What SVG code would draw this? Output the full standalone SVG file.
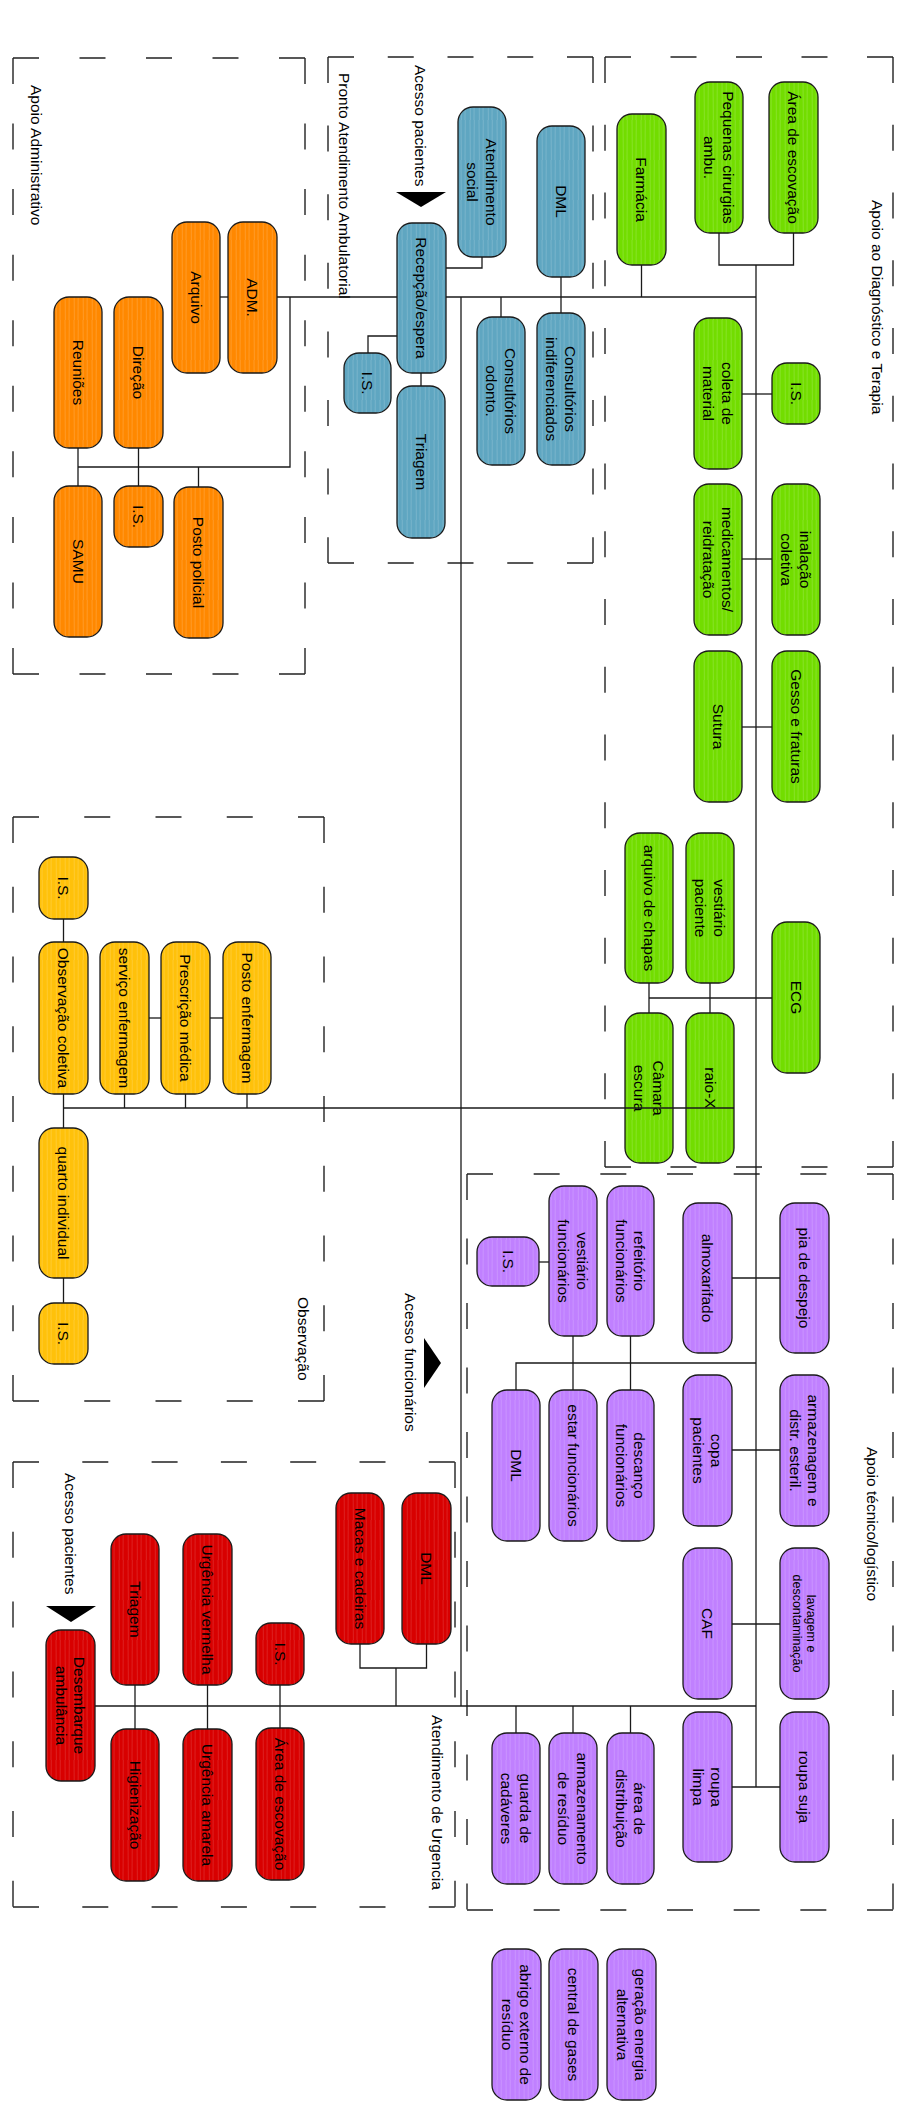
<svg xmlns="http://www.w3.org/2000/svg" width="921" height="2124" viewBox="0 0 921 2124">
<defs>
<pattern id="hO" width="9" height="40" patternUnits="userSpaceOnUse"><rect width="9" height="40" fill="#FF8800"/><path d="M2 0L2.4 40M6.3 0L6 40" stroke="#fff" stroke-opacity=".22" stroke-width=".7"/></pattern>
<pattern id="hB" width="9" height="40" patternUnits="userSpaceOnUse"><rect width="9" height="40" fill="#5FA6C1"/><path d="M2 0L2.4 40M6.3 0L6 40" stroke="#fff" stroke-opacity=".22" stroke-width=".7"/></pattern>
<pattern id="hG" width="9" height="40" patternUnits="userSpaceOnUse"><rect width="9" height="40" fill="#72DD00"/><path d="M2 0L2.4 40M6.3 0L6 40" stroke="#fff" stroke-opacity=".22" stroke-width=".7"/></pattern>
<pattern id="hY" width="9" height="40" patternUnits="userSpaceOnUse"><rect width="9" height="40" fill="#FFC10A"/><path d="M2 0L2.4 40M6.3 0L6 40" stroke="#fff" stroke-opacity=".22" stroke-width=".7"/></pattern>
<pattern id="hP" width="9" height="40" patternUnits="userSpaceOnUse"><rect width="9" height="40" fill="#C080FF"/><path d="M2 0L2.4 40M6.3 0L6 40" stroke="#fff" stroke-opacity=".22" stroke-width=".7"/></pattern>
<pattern id="hR" width="9" height="40" patternUnits="userSpaceOnUse"><rect width="9" height="40" fill="#D80000"/><path d="M2 0L2.4 40M6.3 0L6 40" stroke="#fff" stroke-opacity=".18" stroke-width=".7"/></pattern>
</defs>
<style>
.zone line{stroke:#222;stroke-width:1.4;fill:none}
.nd rect{stroke:#1a1a1a;stroke-width:1.3}
.o rect{fill:url(#hO)}
.b rect{fill:url(#hB)}
.g rect{fill:url(#hG)}
.y rect{fill:url(#hY)}
.p rect{fill:url(#hP)}
.r rect{fill:url(#hR)}
text{font-family:"Liberation Sans",Arial,Helvetica,sans-serif;font-size:15.5px;fill:#000}
.nd text{text-anchor:middle}
.sm{font-size:12.5px}
.lbl{text-anchor:start}
#connectors path{stroke:#1a1a1a;stroke-width:1.3;fill:none}
.arrow{fill:#000}
</style>
<rect width="921" height="2124" fill="#fff"/>

<!-- zones -->
<g id="zone-admin" class="zone">
<line x1="13" y1="58" x2="305" y2="58" stroke-dasharray="26 40.5"/>
<line x1="13" y1="674" x2="305" y2="674" stroke-dasharray="26 40.5"/>
<line x1="13" y1="58" x2="13" y2="674" stroke-dasharray="26 39.56"/>
<line x1="305" y1="58" x2="305" y2="674" stroke-dasharray="26 39.56"/>
<text class="lbl" transform="translate(36 85) rotate(90)" y="5.4">Apoio Administrativo</text>
</g>
<g id="zone-pronto" class="zone">
<line x1="328" y1="57" x2="593" y2="57" stroke-dasharray="26 33.75"/>
<line x1="328" y1="563" x2="593" y2="563" stroke-dasharray="26 33.75"/>
<line x1="328" y1="57" x2="328" y2="563" stroke-dasharray="26 42.6"/>
<line x1="593" y1="57" x2="593" y2="563" stroke-dasharray="26 42.6"/>
<text class="lbl" transform="translate(344 73) rotate(90)" y="5.4">Pronto Atendimento Ambulatorial</text>
</g>
<g id="zone-diag" class="zone">
<line x1="605" y1="57" x2="893" y2="57" stroke-dasharray="26 39.5"/>
<line x1="605" y1="1167" x2="893" y2="1167" stroke-dasharray="26 39.5"/>
<line x1="605" y1="57" x2="605" y2="1167" stroke-dasharray="26 41.75"/>
<line x1="893" y1="57" x2="893" y2="1167" stroke-dasharray="26 41.75"/>
<text class="lbl" transform="translate(877 200) rotate(90)" y="5.4">Apoio ao Diagnóstico e Terapia</text>
</g>
<g id="zone-obs" class="zone">
<line x1="13" y1="817" x2="324" y2="817" stroke-dasharray="26 45.25"/>
<line x1="13" y1="1401" x2="324" y2="1401" stroke-dasharray="26 45.25"/>
<line x1="13" y1="817" x2="13" y2="1401" stroke-dasharray="26 43.75"/>
<line x1="324" y1="817" x2="324" y2="1401" stroke-dasharray="26 43.75"/>
<text class="lbl" transform="translate(303 1297) rotate(90)" y="5.4">Observação</text>
</g>
<g id="zone-tecnico" class="zone">
<line x1="467" y1="1174" x2="893" y2="1174" stroke-dasharray="26 40.67"/>
<line x1="467" y1="1910" x2="893" y2="1910" stroke-dasharray="26 40.67"/>
<line x1="467" y1="1174" x2="467" y2="1910" stroke-dasharray="26 38.5"/>
<line x1="893" y1="1174" x2="893" y2="1910" stroke-dasharray="26 38.5"/>
<text class="lbl" transform="translate(872 1447) rotate(90)" y="5.4">Apoio técnico/logístico</text>
</g>
<g id="zone-urgencia" class="zone">
<line x1="13" y1="1462" x2="455" y2="1462" stroke-dasharray="26 43.3"/>
<line x1="13" y1="1907" x2="455" y2="1907" stroke-dasharray="26 43.3"/>
<line x1="13" y1="1462" x2="13" y2="1907" stroke-dasharray="26 43.8"/>
<line x1="455" y1="1462" x2="455" y2="1907" stroke-dasharray="26 43.8"/>
<text class="lbl" transform="translate(437 1715) rotate(90)" y="5.4">Atendimento de Urgencia</text>
</g>

<!-- access labels and arrows -->
<g id="acesso-pacientes-pa">
<text class="lbl" transform="translate(420 65) rotate(90)" y="5.4">Acesso pacientes</text>
<polygon class="arrow" points="396,192 446,192 421,207"/>
</g>
<g id="acesso-funcionarios">
<text class="lbl" transform="translate(410 1293) rotate(90)" y="5.4">Acesso funcionários</text>
<polygon class="arrow" points="424,1338 441,1363 424,1388"/>
</g>
<g id="acesso-pacientes-urg">
<text class="lbl" transform="translate(70 1473) rotate(90)" y="5.4">Acesso pacientes</text>
<polygon class="arrow" points="46,1606 96,1606 71,1622"/>
</g>

<!-- nodes: orange -->
<g id="n-arquivo" class="nd o"><rect x="172" y="222" width="48" height="151" rx="15"/><text transform="translate(196 297.5) rotate(90)" y="5.4">Arquivo</text></g>
<g id="n-adm" class="nd o"><rect x="228" y="222" width="49" height="151" rx="15"/><text transform="translate(252.5 297.5) rotate(90)" y="5.4">ADM.</text></g>
<g id="n-reunioes" class="nd o"><rect x="54" y="297" width="48" height="151" rx="15"/><text transform="translate(78 372.5) rotate(90)" y="5.4">Reuniões</text></g>
<g id="n-direcao" class="nd o"><rect x="114" y="297" width="49" height="151" rx="15"/><text transform="translate(138.5 372.5) rotate(90)" y="5.4">Direção</text></g>
<g id="n-samu" class="nd o"><rect x="54" y="486" width="48" height="151" rx="15"/><text transform="translate(78 561.5) rotate(90)" y="5.4">SAMU</text></g>
<g id="n-is-adm" class="nd o"><rect x="114" y="486" width="49" height="61" rx="15"/><text transform="translate(138.5 516.5) rotate(90)" y="5.4">I.S.</text></g>
<g id="n-posto-policial" class="nd o"><rect x="174" y="487" width="49" height="151" rx="15"/><text transform="translate(198.5 562.5) rotate(90)" y="5.4">Posto policial</text></g>

<!-- nodes: blue -->
<g id="n-atend-social" class="nd b"><rect x="458" y="107" width="48" height="150" rx="15"/><text transform="translate(482 182) rotate(90)"><tspan x="0" y="-3.9">Atendimento</tspan><tspan x="0" y="14.7">social</tspan></text></g>
<g id="n-dml-pa" class="nd b"><rect x="537" y="126" width="48" height="151" rx="15"/><text transform="translate(561 201.5) rotate(90)" y="5.4">DML</text></g>
<g id="n-recepcao" class="nd b"><rect x="397" y="223" width="49" height="150" rx="15"/><text transform="translate(421.5 298) rotate(90)" y="5.4">Recepção/espera</text></g>
<g id="n-is-pa" class="nd b"><rect x="344" y="353" width="47" height="60" rx="15"/><text transform="translate(367.5 383) rotate(90)" y="5.4">I.S.</text></g>
<g id="n-triagem-pa" class="nd b"><rect x="397" y="386" width="48" height="152" rx="15"/><text transform="translate(421 462) rotate(90)" y="5.4">Triagem</text></g>
<g id="n-cons-odonto" class="nd b"><rect x="477" y="317" width="48" height="148" rx="15"/><text transform="translate(501 391) rotate(90)"><tspan x="0" y="-3.9">Consultórios</tspan><tspan x="0" y="14.7">odonto.</tspan></text></g>
<g id="n-cons-indif" class="nd b"><rect x="537" y="313" width="48" height="152" rx="15"/><text transform="translate(561 389) rotate(90)"><tspan x="0" y="-3.9">Consultórios</tspan><tspan x="0" y="14.7">indiferenciados</tspan></text></g>

<!-- nodes: green -->
<g id="n-farmacia" class="nd g"><rect x="617" y="114" width="49" height="151" rx="15"/><text transform="translate(641.5 189.5) rotate(90)" y="5.4">Farmácia</text></g>
<g id="n-peq-cir" class="nd g"><rect x="695" y="82" width="48" height="151" rx="15"/><text transform="translate(719 157.5) rotate(90)"><tspan x="0" y="-3.9">Pequenas cirurgias</tspan><tspan x="0" y="14.7">ambu.</tspan></text></g>
<g id="n-escov-diag" class="nd g"><rect x="769" y="82" width="49" height="151" rx="15"/><text transform="translate(793.5 157.5) rotate(90)" y="5.4">Área de escovação</text></g>
<g id="n-coleta" class="nd g"><rect x="694" y="318" width="48" height="151" rx="15"/><text transform="translate(718 393.5) rotate(90)"><tspan x="0" y="-3.9">coleta de</tspan><tspan x="0" y="14.7">material</tspan></text></g>
<g id="n-is-diag" class="nd g"><rect x="772" y="363" width="48" height="61" rx="15"/><text transform="translate(796 393.5) rotate(90)" y="5.4">I.S.</text></g>
<g id="n-medic" class="nd g"><rect x="694" y="484" width="48" height="151" rx="15"/><text transform="translate(718 559.5) rotate(90)"><tspan x="0" y="-3.9">medicamentos/</tspan><tspan x="0" y="14.7">reidratação</tspan></text></g>
<g id="n-inalacao" class="nd g"><rect x="772" y="484" width="48" height="151" rx="15"/><text transform="translate(796 559.5) rotate(90)"><tspan x="0" y="-3.9">inalação</tspan><tspan x="0" y="14.7">coletiva</tspan></text></g>
<g id="n-sutura" class="nd g"><rect x="694" y="651" width="48" height="151" rx="15"/><text transform="translate(718 726.5) rotate(90)" y="5.4">Sutura</text></g>
<g id="n-gesso" class="nd g"><rect x="772" y="651" width="48" height="151" rx="15"/><text transform="translate(796 726.5) rotate(90)" y="5.4">Gesso e fraturas</text></g>
<g id="n-arq-chapas" class="nd g"><rect x="625" y="833" width="48" height="150" rx="15"/><text transform="translate(649 908) rotate(90)" y="5.4">arquivo de chapas</text></g>
<g id="n-vest-pac" class="nd g"><rect x="686" y="833" width="48" height="150" rx="15"/><text transform="translate(710 908) rotate(90)"><tspan x="0" y="-3.9">vestiário</tspan><tspan x="0" y="14.7">paciente</tspan></text></g>
<g id="n-ecg" class="nd g"><rect x="772" y="922" width="48" height="151" rx="15"/><text transform="translate(796 997.5) rotate(90)" y="5.4">ECG</text></g>
<g id="n-camara" class="nd g"><rect x="625" y="1013" width="48" height="150" rx="15"/><text transform="translate(649 1088) rotate(90)"><tspan x="0" y="-3.9">Câmara</tspan><tspan x="0" y="14.7">escura</tspan></text></g>
<g id="n-raiox" class="nd g"><rect x="686" y="1013" width="48" height="150" rx="15"/><text transform="translate(710 1088) rotate(90)" y="5.4">raio-X</text></g>

<!-- nodes: yellow -->
<g id="n-is-obs1" class="nd y"><rect x="39" y="857" width="49" height="62" rx="15"/><text transform="translate(63.5 888) rotate(90)" y="5.4">I.S.</text></g>
<g id="n-obs-col" class="nd y"><rect x="39" y="942" width="49" height="152" rx="15"/><text transform="translate(63.5 1018) rotate(90)" y="5.4">Observação coletiva</text></g>
<g id="n-serv-enf" class="nd y"><rect x="100" y="942" width="49" height="152" rx="15"/><text transform="translate(124.5 1018) rotate(90)" y="5.4">serviço enfermagem</text></g>
<g id="n-prescricao" class="nd y"><rect x="161" y="942" width="49" height="152" rx="15"/><text transform="translate(185.5 1018) rotate(90)" y="5.4">Prescrição médica</text></g>
<g id="n-posto-enf" class="nd y"><rect x="223" y="942" width="48" height="152" rx="15"/><text transform="translate(247 1018) rotate(90)" y="5.4">Posto enfermagem</text></g>
<g id="n-quarto" class="nd y"><rect x="39" y="1128" width="49" height="150" rx="15"/><text transform="translate(63.5 1203) rotate(90)" y="5.4">quarto individual</text></g>
<g id="n-is-obs2" class="nd y"><rect x="39" y="1303" width="49" height="61" rx="15"/><text transform="translate(63.5 1333.5) rotate(90)" y="5.4">I.S.</text></g>

<!-- nodes: purple -->
<g id="n-is-tec" class="nd p"><rect x="477" y="1237" width="62" height="49" rx="15"/><text transform="translate(508 1261.5) rotate(90)" y="5.4">I.S.</text></g>
<g id="n-vest-func" class="nd p"><rect x="549" y="1186" width="48" height="150" rx="15"/><text transform="translate(573 1261) rotate(90)"><tspan x="0" y="-3.9">vestiário</tspan><tspan x="0" y="14.7">funcionários</tspan></text></g>
<g id="n-refeitorio" class="nd p"><rect x="607" y="1186" width="47" height="150" rx="15"/><text transform="translate(630.5 1261) rotate(90)"><tspan x="0" y="-3.9">refeitório</tspan><tspan x="0" y="14.7">funcionários</tspan></text></g>
<g id="n-almox" class="nd p"><rect x="683" y="1203" width="49" height="150" rx="15"/><text transform="translate(707.5 1278) rotate(90)" y="5.4">almoxarifado</text></g>
<g id="n-pia" class="nd p"><rect x="780" y="1203" width="49" height="150" rx="15"/><text transform="translate(804.5 1278) rotate(90)" y="5.4">pia de despejo</text></g>
<g id="n-dml-tec" class="nd p"><rect x="492" y="1390" width="48" height="151" rx="15"/><text transform="translate(516 1465.5) rotate(90)" y="5.4">DML</text></g>
<g id="n-estar" class="nd p"><rect x="549" y="1390" width="48" height="151" rx="15"/><text transform="translate(573 1465.5) rotate(90)" y="5.4">estar funcionários</text></g>
<g id="n-descanco" class="nd p"><rect x="607" y="1390" width="47" height="151" rx="15"/><text transform="translate(630.5 1465.5) rotate(90)"><tspan x="0" y="-3.9">descanço</tspan><tspan x="0" y="14.7">funcionários</tspan></text></g>
<g id="n-copa" class="nd p"><rect x="683" y="1375" width="49" height="151" rx="15"/><text transform="translate(707.5 1450.5) rotate(90)"><tspan x="0" y="-3.9">copa</tspan><tspan x="0" y="14.7">pacientes</tspan></text></g>
<g id="n-armazenagem" class="nd p"><rect x="780" y="1375" width="49" height="151" rx="15"/><text transform="translate(804.5 1450.5) rotate(90)"><tspan x="0" y="-3.9">armazenagem e</tspan><tspan x="0" y="14.7">distr. esteril.</tspan></text></g>
<g id="n-caf" class="nd p"><rect x="683" y="1548" width="49" height="151" rx="15"/><text transform="translate(707.5 1623.5) rotate(90)" y="5.4">CAF</text></g>
<g id="n-lavagem" class="nd p"><rect x="780" y="1548" width="49" height="151" rx="15"/><text class="sm" transform="translate(804.5 1623.5) rotate(90)"><tspan x="0" y="-2.75">lavagem e</tspan><tspan x="0" y="11.55">descontaminação</tspan></text></g>
<g id="n-roupa-limpa" class="nd p"><rect x="683" y="1712" width="49" height="150" rx="15"/><text transform="translate(707.5 1787) rotate(90)"><tspan x="0" y="-3.9">roupa</tspan><tspan x="0" y="14.7">limpa</tspan></text></g>
<g id="n-roupa-suja" class="nd p"><rect x="780" y="1712" width="49" height="150" rx="15"/><text transform="translate(804.5 1787) rotate(90)" y="5.4">roupa suja</text></g>
<g id="n-guarda" class="nd p"><rect x="492" y="1733" width="48" height="151" rx="15"/><text transform="translate(516 1808.5) rotate(90)"><tspan x="0" y="-3.9">guarda de</tspan><tspan x="0" y="14.7">cadáveres</tspan></text></g>
<g id="n-armazenamento" class="nd p"><rect x="549" y="1733" width="48" height="151" rx="15"/><text transform="translate(573 1808.5) rotate(90)"><tspan x="0" y="-3.9">armazenamento</tspan><tspan x="0" y="14.7">de resíduo</tspan></text></g>
<g id="n-distribuicao" class="nd p"><rect x="607" y="1733" width="47" height="151" rx="15"/><text transform="translate(630.5 1808.5) rotate(90)"><tspan x="0" y="-3.9">área de</tspan><tspan x="0" y="14.7">distribuição</tspan></text></g>
<g id="n-abrigo" class="nd p"><rect x="492" y="1949" width="49" height="151" rx="15"/><text transform="translate(516.5 2024.5) rotate(90)"><tspan x="0" y="-3.9">abrigo externo de</tspan><tspan x="0" y="14.7">resíduo</tspan></text></g>
<g id="n-gases" class="nd p"><rect x="549" y="1949" width="49" height="151" rx="15"/><text transform="translate(573.5 2024.5) rotate(90)" y="5.4">central de gases</text></g>
<g id="n-energia" class="nd p"><rect x="607" y="1949" width="49" height="151" rx="15"/><text transform="translate(631.5 2024.5) rotate(90)"><tspan x="0" y="-3.9">geração energia</tspan><tspan x="0" y="14.7">alternativa</tspan></text></g>

<!-- nodes: red -->
<g id="n-desembarque" class="nd r"><rect x="46" y="1630" width="49" height="151" rx="15"/><text transform="translate(70.5 1705.5) rotate(90)"><tspan x="0" y="-3.9">Desembarque</tspan><tspan x="0" y="14.7">ambulância</tspan></text></g>
<g id="n-triagem-urg" class="nd r"><rect x="111" y="1534" width="48" height="151" rx="15"/><text transform="translate(135 1609.5) rotate(90)" y="5.4">Triagem</text></g>
<g id="n-urg-vermelha" class="nd r"><rect x="183" y="1534" width="49" height="151" rx="15"/><text transform="translate(207.5 1609.5) rotate(90)" y="5.4">Urgência vermelha</text></g>
<g id="n-is-urg" class="nd r"><rect x="256" y="1623" width="48" height="62" rx="15"/><text transform="translate(280 1654) rotate(90)" y="5.4">I.S.</text></g>
<g id="n-macas" class="nd r"><rect x="336" y="1493" width="48" height="151" rx="15"/><text transform="translate(360 1568.5) rotate(90)" y="5.4">Macas e cadeiras</text></g>
<g id="n-dml-urg" class="nd r"><rect x="402" y="1493" width="49" height="151" rx="15"/><text transform="translate(426.5 1568.5) rotate(90)" y="5.4">DML</text></g>
<g id="n-higienizacao" class="nd r"><rect x="111" y="1729" width="48" height="152" rx="15"/><text transform="translate(135 1805) rotate(90)" y="5.4">Higienização</text></g>
<g id="n-urg-amarela" class="nd r"><rect x="183" y="1729" width="49" height="152" rx="15"/><text transform="translate(207.5 1805) rotate(90)" y="5.4">Urgência amarela</text></g>
<g id="n-escov-urg" class="nd r"><rect x="256" y="1728" width="48" height="152" rx="15"/><text transform="translate(280 1804) rotate(90)" y="5.4">Área de escovação</text></g>

<!-- connectors -->
<g id="connectors">
<path d="M220 297H228"/>
<path d="M277 297H397"/>
<path d="M446 297H756"/>
<path d="M290 297V467H78"/>
<path d="M78 448V486"/>
<path d="M138.5 448V486"/>
<path d="M198.5 467V487"/>
<path d="M446 268H482V257"/>
<path d="M397 336H368V353"/>
<path d="M421 373V386"/>
<path d="M561 277V313"/>
<path d="M501 297V317"/>
<path d="M461 297V1706"/>
<path d="M641.5 265V297"/>
<path d="M719 233V265H793.5V233"/>
<path d="M756 265V1787"/>
<path d="M742 394H772"/>
<path d="M742 559H772"/>
<path d="M742 727H772"/>
<path d="M649 983V1013"/>
<path d="M710 983V1013"/>
<path d="M649 998H772"/>
<path d="M63.5 919V942"/>
<path d="M63.5 1094V1128"/>
<path d="M63.5 1278V1303"/>
<path d="M149 1018H161"/>
<path d="M210 1018H223"/>
<path d="M63.5 1108H734"/>
<path d="M124.5 1094V1108"/>
<path d="M185.5 1094V1108"/>
<path d="M247 1094V1108"/>
<path d="M539 1262H549"/>
<path d="M732 1278H780"/>
<path d="M516 1390V1363H756"/>
<path d="M573 1336V1390"/>
<path d="M630.5 1336V1390"/>
<path d="M732 1450H780"/>
<path d="M732 1624H780"/>
<path d="M732 1787H780"/>
<path d="M95 1706H756"/>
<path d="M516 1706V1733"/>
<path d="M573 1706V1733"/>
<path d="M630.5 1706V1733"/>
<path d="M135 1685V1729"/>
<path d="M207.5 1685V1729"/>
<path d="M280 1685V1728"/>
<path d="M360 1644V1668H426.5V1644"/>
<path d="M396 1668V1706"/>
</g>
</svg>
